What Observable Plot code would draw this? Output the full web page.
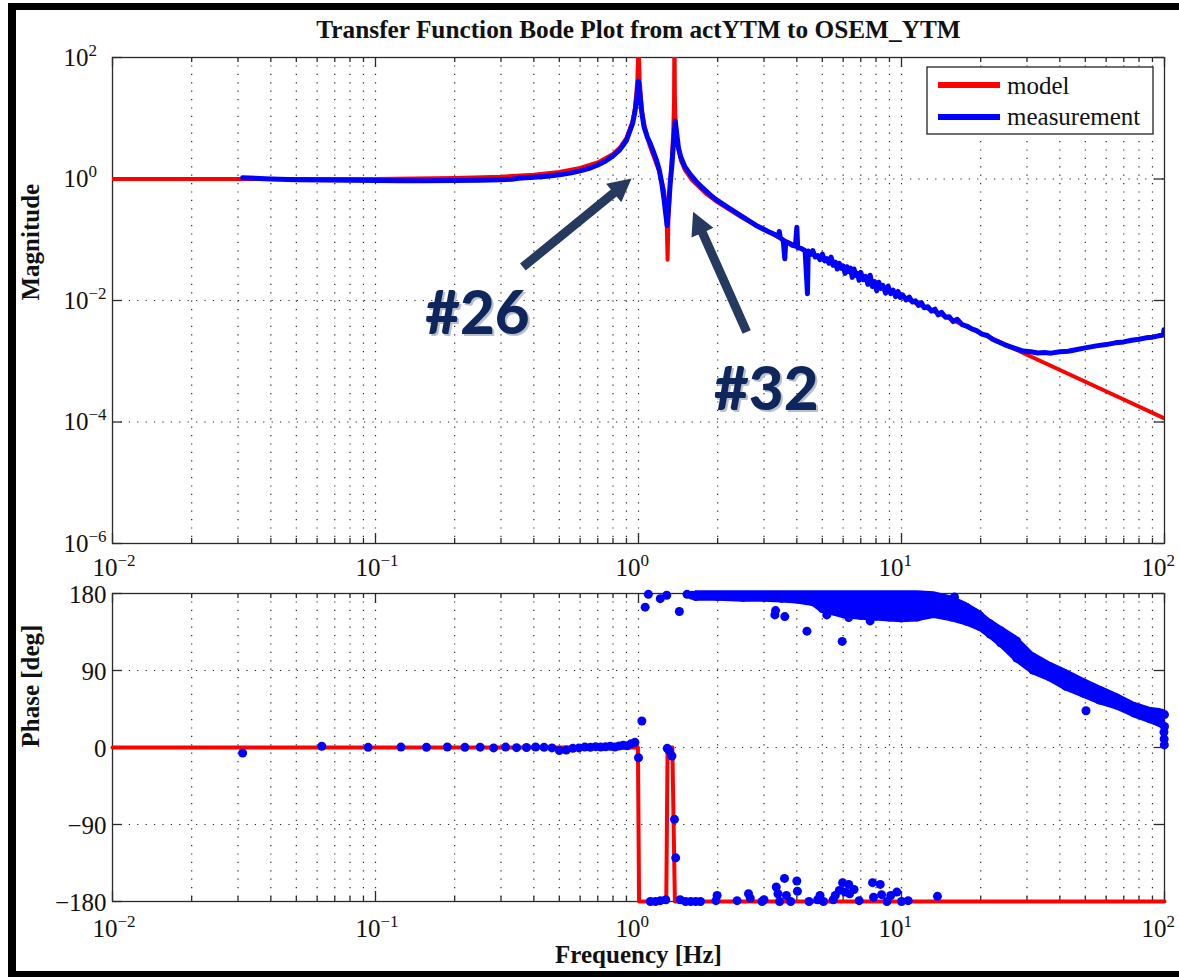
<!DOCTYPE html>
<html>
<head>
<meta charset="utf-8">
<script src="https://cdn.jsdelivr.net/npm/d3@7"></script>
<script src="https://cdn.jsdelivr.net/npm/@observablehq/plot@0.6"></script>
<style>
  body { margin: 0; background: #fff; }
  #page { position: relative; width: 1179px; height: 977px; overflow: hidden; background: #fff; }
  #border { position: absolute; left: 8px; top: 3px; width: 1200px; height: 961px;
            border-left: 8px solid #000; border-top: 7px solid #000; border-bottom: 6px solid #000; }
  .panel { position: absolute; left: 0; }
  #legend { position: absolute; left: 926px; top: 66px; }
</style>
</head>
<body>
<div id="page">
  <div id="border"></div>
  <div id="mag" class="panel" style="top:0px"></div>
  <div id="phase" class="panel" style="top:556px"></div>
  <svg id="legend" width="230" height="72" font-family="Liberation Serif, serif" font-size="25">
    <rect x="1" y="1" width="226" height="67" fill="#fff" stroke="#222" stroke-width="1.3"></rect>
    <line x1="12" x2="74" y1="19" y2="19" stroke="#ff0000" stroke-width="6"></line>
    <text x="81" y="28" fill="#111">model</text>
    <line x1="12" x2="74" y1="51" y2="51" stroke="#0000ff" stroke-width="6"></line>
    <text x="81" y="59" fill="#111">measurement</text>
  </svg>
</div>
<script>
// ---- axes ----
const xMajor = [0.01, 0.1, 1, 10, 100];
const xMajorExp = ["−2", "−1", "0", "1", "2"];
const magMajor = [1e2, 1, 1e-2, 1e-4, 1e-6];
const magMajorExp = ["2", "0", "−2", "−4", "−6"];
const magGrid = [1, 1e-2, 1e-4];
const phaseTicks = [180, 90, 0, -90, -180];
const phaseTickLabels = ["180", "90", "0", "−90", "−180"];
const phaseGrid = [90, 0, -90];
const xMinor = [0.01, 0.1, 1, 10].flatMap(d => [2, 3, 4, 5, 6, 7, 8, 9].map(k => d * k));
const xGrid = [0.1, 1, 10, ...xMinor];

// ---- model (red) ----
const modelFreq = [0.01, 0.03, 0.1, 0.2, 0.3, 0.4, 0.5, 0.6, 0.7, 0.8, 0.85, 0.9, 0.95, 0.97, 0.99, 0.995, 1.0, 1.005, 1.01, 1.03, 1.05, 1.1, 1.15, 1.2, 1.25, 1.27, 1.28, 1.29, 1.3, 1.32, 1.34, 1.355, 1.365, 1.37, 1.375, 1.385, 1.4, 1.45, 1.5, 1.6, 1.8, 2, 2.5, 3, 4, 5, 7, 10, 15, 20, 30, 50, 70, 100];
const modelMag = [1.0, 1.0, 1.004, 1.039, 1.09, 1.18, 1.31, 1.52, 1.87, 2.59, 3.3, 4.75, 9.0, 14.8, 43, 90, 400, 90, 42, 13.7, 8.0, 3.66, 2.16, 1.32, 0.65, 0.36, 0.2, 0.047, 0.23, 0.88, 2.3, 5.7, 19, 400, 21, 7.6, 4.2, 2.0, 1.42, 0.95, 0.58, 0.414, 0.225, 0.146, 0.077, 0.0478, 0.0238, 0.0116, 0.0052, 0.00289, 0.00128, 0.00046, 0.000235, 0.000115];
const modelPhaseFreq = [0.01, 0.995, 1.005, 1.275, 1.29, 1.345, 1.375, 100];
const modelPhase = [0, 0, -180, -180, 0, 0, -180, -180];

// ---- measurement (blue) ----
const measFreq = [0.03125, 0.04, 0.05, 0.0625, 0.08, 0.1, 0.125, 0.15, 0.2, 0.25, 0.3, 0.33, 0.35, 0.4, 0.45, 0.5, 0.55, 0.6, 0.65, 0.7, 0.75, 0.8, 0.85, 0.9, 0.95, 0.97, 0.985, 1.0, 1.01, 1.03, 1.05, 1.08, 1.11, 1.14, 1.17, 1.2, 1.23, 1.25, 1.27, 1.285, 1.3, 1.32, 1.34, 1.36, 1.38, 1.395, 1.42, 1.45, 1.5, 1.57, 1.65, 1.75, 1.9, 2.0, 2.2, 2.5, 2.8, 3.1, 3.3, 3.4, 3.43, 3.46, 3.55, 3.6, 3.63, 3.75, 3.85, 3.95, 4.0, 4.03, 4.15, 4.3, 4.39, 4.42,
  4.5, 4.6, 4.7, 4.8, 4.9, 5.0, 5.1, 5.2, 5.3, 5.4, 5.5, 5.6, 5.7, 5.8, 5.9, 6.0, 6.1, 6.2, 6.3, 6.4, 6.5, 6.6, 6.7, 6.8, 6.9, 7.0, 7.15, 7.3, 7.45, 7.6, 7.75, 7.9, 8.05, 8.2, 8.35, 8.5, 8.7, 8.9, 9.1, 9.3, 9.5, 9.7, 9.9, 10.1, 10.4, 10.7, 11.0, 11.3, 11.6, 11.9, 12.2, 12.6, 13.0, 13.4, 13.8, 14.2, 14.7, 15.2, 15.7, 16.3, 17, 17.7, 18.5, 19.3, 20.2, 21.2, 22.2, 23.3, 24.5, 25.5,
  27, 29, 31, 33, 35, 37, 40, 43, 46, 50, 55, 60, 65, 70, 75, 80, 85, 90, 95, 99, 99.5, 100];
const measMag = [1.05, 1.0, 0.97, 0.96, 0.95, 0.945, 0.94, 0.94, 0.945, 0.955, 0.975, 0.99, 1.03, 1.07, 1.11, 1.17, 1.25, 1.36, 1.5, 1.7, 1.98, 2.4, 3.05, 4.3, 8.2, 13, 22, 41, 28, 12, 7.2, 4.9, 3.8, 2.8, 2.05, 1.4, 0.78, 0.47, 0.26, 0.17, 0.32, 0.85, 1.7, 4.2, 9.0, 6.0, 3.2, 2.25, 1.6, 1.2, 0.93, 0.72, 0.52, 0.44, 0.335, 0.235, 0.172, 0.138, 0.122, 0.112, 0.137, 0.108, 0.098, 0.0486, 0.092, 0.087, 0.081, 0.079, 0.161, 0.074, 0.072, 0.066, 0.0129, 0.065,
  0.057, 0.066, 0.052, 0.055, 0.047, 0.058, 0.045, 0.049, 0.041, 0.052, 0.038, 0.043, 0.033, 0.041, 0.034, 0.037, 0.028, 0.036, 0.030, 0.034, 0.024, 0.033, 0.026, 0.028, 0.0215, 0.029, 0.022, 0.025, 0.0185, 0.026, 0.017, 0.0205, 0.0145, 0.020, 0.0158, 0.0178, 0.0132, 0.0172, 0.0130, 0.0148, 0.0116, 0.0141, 0.0112, 0.0124, 0.0102, 0.0114, 0.0095, 0.0099, 0.0083, 0.0092, 0.0076, 0.0079, 0.0067, 0.0072, 0.0058, 0.0064, 0.0053, 0.0054, 0.0045, 0.0049, 0.0040, 0.0038, 0.0034, 0.0032, 0.0028, 0.00265, 0.0023, 0.0021, 0.0019, 0.00178,
  0.00163, 0.00147, 0.00143, 0.00137, 0.00139, 0.00136, 0.00143, 0.00146, 0.00155, 0.00166, 0.00179, 0.00188, 0.00201, 0.00208, 0.00222, 0.0023, 0.00243, 0.00249, 0.00262, 0.0027, 0.0033, 0.0028];

// individual phase samples (deg)
const phaseDotFreq = [0.03125, 0.0625, 0.09375, 0.125, 0.15625, 0.1875, 0.21875, 0.25, 0.28125, 0.3125, 0.34375, 0.375, 0.40625, 0.4375, 0.46875, 0.5, 0.53125, 0.5625, 0.59375, 0.625, 0.65625, 0.6875, 0.71875, 0.75, 0.78125, 0.8125, 0.84375, 0.875, 0.90625, 0.9375, 0.96875, 1.0,
  1.03, 1.06, 1.09, 1.11, 1.16, 1.21, 1.21, 1.27, 1.28, 1.286, 1.31, 1.34, 1.37, 1.385, 1.43, 1.44, 1.51, 1.53, 1.58, 1.6, 1.65, 1.72, 1.97, 1.99, 2.37, 2.62, 2.66, 2.95, 3.0, 3.3, 3.32, 3.34, 3.39, 3.44, 3.59, 3.6, 3.65, 3.79, 4.0, 4.02, 4.37, 4.45, 4.8, 4.9, 5.05, 5.2, 5.5, 5.6, 5.8, 5.95, 5.97, 6.1, 6.3, 6.3, 6.35, 6.6, 6.9, 7.6, 7.76, 7.83, 8.3, 8.4, 8.8, 9.1, 9.6, 10.0, 10.6, 13.7, 15.9, 50.3, 99.5, 99.7, 99.85];
const phaseDotDeg = [-6.4, 1.4, 0.2, 0.5, 0.3, 0.6, 0.2, 0.4, -0.5, 0.5, -0.2, 0.0, 0.6, 0.2, -0.5, -3.5, -3.0, -1.0, -0.5, 0.5, 0.3, 1.0, 0.5, 0.8, 1.5, 0.5, 1.8, 2.5, 2.0, 4.5, 6.0, -12,
  31, 164, 179, -180, -180, -179, 174, -178, 178, -1, -4, -10, -84, -129, 159, -178, -180, 179, -180, 178, -180, -180, -179, -173, -179, -171, -176, -180, -178, 155, 160, -163, -171, -180, -153, 153, -173, -180, -156, -168, 136, -180, -178, -173, -180, 155, -178, -173, -167, 124, -158, -169, 152, -160, -171, -166, -179, 148, -158, -175, -160, -172, -180, -173, -169, -180, -179, -174, 176, 43, 18, 10, 3];

// dense part of the phase record: visible upper / lower extent (deg)
const bandFreq = [1.65, 2, 2.5, 3, 3.5, 4, 4.6, 5, 6, 7, 8, 9, 10, 11.5, 13.3, 15.5, 17.7, 19.8, 21.7, 23.8, 27.4, 31.6, 36.6, 42.2, 49.1, 56.6, 65.9, 76.3, 88, 97, 100];
const bandHi = [182, 182, 182, 182, 182, 182, 182, 182, 182, 182, 182, 182, 182, 182, 181, 176, 168, 159, 149, 141, 129, 110, 99, 90, 80, 71, 62, 52, 46, 44, 43];
const bandLo = [172, 172, 171, 171, 170, 169, 166, 158, 152, 150, 149, 148, 147, 148, 152, 148, 143, 137, 128, 118, 100, 86, 78, 67, 59, 51, 45, 36, 29, 24, 20];

// ---- annotations ----
const noteArrows = [
  {x1: 0.365, y1: 0.0349, x2: 0.945, y2: 1.0},
  {x1: 2.59, y1: 0.00297, x2: 1.62, y2: 0.284}
];
const noteLabels = [
  {f: 0.244, m: 0.00286, text: "#26"},
  {f: 3.06, m: 0.000155, text: "#32"}
];

const title = "Transfer Function Bode Plot from actYTM to OSEM_YTM";

const RED = "#ff0000", BLUE = "#0000ff", AXIS = "#2a2a2a", NAVY = "#0f265c", ARROW = "#253a5e";
const W = 1052;
const serif = "Liberation Serif, Times New Roman, serif";

const zip = (xs, ys) => xs.map((x, i) => ({x, y: ys[i]}));
const modelMagData = zip(modelFreq, modelMag);
const measMagData = zip(measFreq, measMag);
const modelPhaseData = zip(modelPhaseFreq, modelPhase);
const phaseDots = zip(phaseDotFreq, phaseDotDeg);
const band = bandFreq.map((f, i) => ({f, hi: bandHi[i], lo: bandLo[i]}));

const gridStyle = {stroke: "#000", strokeWidth: 1.2, strokeDasharray: "1.2,7.2", strokeOpacity: 0.85};

function ticks(H, yTicks) {
  const s = {stroke: AXIS, strokeWidth: 1.3};
  return [
    Plot.ruleX(xMajor, {...s, insetTop: H - 10}),
    Plot.ruleX(xMajor, {...s, insetBottom: H - 10}),
    Plot.ruleX(xMinor, {...s, insetTop: H - 5}),
    Plot.ruleX(xMinor, {...s, insetBottom: H - 5}),
    Plot.ruleY(yTicks, {...s, insetRight: W - 10}),
    Plot.ruleY(yTicks, {...s, insetLeft: W - 10})
  ];
}

// "10" with a raised exponent under each decade
function xLabels(dyBase) {
  return xMajor.map((v, i) => {
    const dx = xMajorExp[i].startsWith("−") ? 5 : 2;
    return [
      Plot.text([v], {x: d => d, text: () => "10", frameAnchor: "bottom", textAnchor: "end", lineAnchor: "bottom", dx, dy: dyBase, fontSize: 25, fill: "#111"}),
      Plot.text([v], {x: d => d, text: () => xMajorExp[i], frameAnchor: "bottom", textAnchor: "start", lineAnchor: "bottom", dx, dy: dyBase - 10, fontSize: 17, fill: "#111"})
    ];
  });
}

function arrowMark(data) {
  return (index, scales) => {
    const g = d3.create("svg:g");
    for (const a of data) {
      const x1 = scales.x(a.x1), y1 = scales.y(a.y1), x2 = scales.x(a.x2), y2 = scales.y(a.y2);
      const L = Math.hypot(x2 - x1, y2 - y1), ux = (x2 - x1) / L, uy = (y2 - y1) / L, px = -uy, py = ux;
      const hl = 23, hw = 12, sw = 4.5;
      const bx = x2 - ux * hl, by = y2 - uy * hl;
      const pts = [[x1 + px * sw, y1 + py * sw], [bx + px * sw, by + py * sw], [bx + px * hw, by + py * hw], [x2, y2],
                   [bx - px * hw, by - py * hw], [bx - px * sw, by - py * sw], [x1 - px * sw, y1 - py * sw]];
      g.append("path").attr("d", "M" + pts.map(p => p.join(",")).join("L") + "Z").attr("fill", ARROW);
    }
    return g.node();
  };
}

const magPlot = Plot.plot({
  width: 1179, height: 590,
  marginLeft: 112, marginRight: 15, marginTop: 57, marginBottom: 47,
  style: {fontFamily: serif, background: "transparent", overflow: "visible"},
  x: {type: "log", domain: [0.01, 100], axis: null},
  y: {type: "log", domain: [1e-6, 1e2], axis: null},
  marks: [
    Plot.ruleX(xGrid, gridStyle),
    Plot.ruleY(magGrid, gridStyle),
    ticks(486, magMajor),
    Plot.frame({stroke: AXIS, strokeWidth: 1.3}),
    xLabels(32),
    Plot.text(magMajor, {y: d => d, text: () => "10", frameAnchor: "left", textAnchor: "end", lineAnchor: "bottom", dx: -24, dy: 8, fontSize: 25, fill: "#111"}),
    Plot.text(magMajor, {y: d => d, text: (d, i) => magMajorExp[i], frameAnchor: "left", textAnchor: "start", lineAnchor: "bottom", dx: -24, dy: -2, fontSize: 17, fill: "#111"}),
    Plot.text([title], {frameAnchor: "top", lineAnchor: "bottom", dy: -20, fontSize: 25.3, fontWeight: "bold", fill: "#111"}),
    Plot.text(["Magnitude"], {frameAnchor: "left", rotate: -90, lineAnchor: "bottom", dx: -74, fontSize: 25, fontWeight: "bold", fill: "#111"}),
    Plot.line(modelMagData, {x: "x", y: "y", stroke: RED, strokeWidth: 4, clip: true}),
    Plot.line(measMagData, {x: "x", y: "y", stroke: BLUE, strokeWidth: 5, strokeLinejoin: "round", clip: true}),
    arrowMark(noteArrows),
    Plot.text(noteLabels, {x: "f", y: "m", text: "text", lineAnchor: "bottom", dx: 2, dy: 2, fontFamily: "Lato, sans-serif", fontWeight: 900, fontSize: 60, fill: "#b9c0cc"}),
    Plot.text(noteLabels, {x: "f", y: "m", text: "text", lineAnchor: "bottom", fontFamily: "Lato, sans-serif", fontWeight: 900, fontSize: 60, fill: NAVY})
  ]
});
document.getElementById("mag").append(magPlot);

const phasePlot = Plot.plot({
  width: 1179, height: 421,
  marginLeft: 112, marginRight: 15, marginTop: 37, marginBottom: 76,
  style: {fontFamily: serif, background: "transparent", overflow: "visible"},
  x: {type: "log", domain: [0.01, 100], axis: null},
  y: {domain: [-180, 180], axis: null},
  marks: [
    Plot.ruleX(xGrid, gridStyle),
    Plot.ruleY(phaseGrid, gridStyle),
    ticks(308, phaseTicks),
    Plot.frame({stroke: AXIS, strokeWidth: 1.3}),
    xLabels(35),
    Plot.text(phaseTicks, {y: d => d, text: (d, i) => phaseTickLabels[i], frameAnchor: "left", textAnchor: "end", lineAnchor: "bottom", dx: -6, dy: 9, fontSize: 25, fill: "#111"}),
    Plot.text(["Phase [deg]"], {frameAnchor: "left", rotate: -90, lineAnchor: "bottom", dx: -74, fontSize: 25, fontWeight: "bold", fill: "#111"}),
    Plot.text(["Frequency [Hz]"], {frameAnchor: "bottom", lineAnchor: "bottom", dy: 61, fontSize: 25, fontWeight: "bold", fill: "#111"}),
    Plot.line(modelPhaseData, {x: "x", y: "y", stroke: RED, strokeWidth: 4}),
    Plot.areaY(band, {x: "f", y1: "lo", y2: "hi", fill: BLUE, stroke: BLUE, strokeWidth: 2}),
    Plot.dot(band, {x: "f", y: d => d.hi - 4.5, r: 4.5, fill: BLUE}),
    Plot.dot(band, {x: "f", y: d => d.lo + 4.5, r: 4.5, fill: BLUE}),
    Plot.dot(phaseDots, {x: "x", y: "y", r: 4.5, fill: BLUE})
  ]
});
document.getElementById("phase").append(phasePlot);
</script>
</body>
</html>
